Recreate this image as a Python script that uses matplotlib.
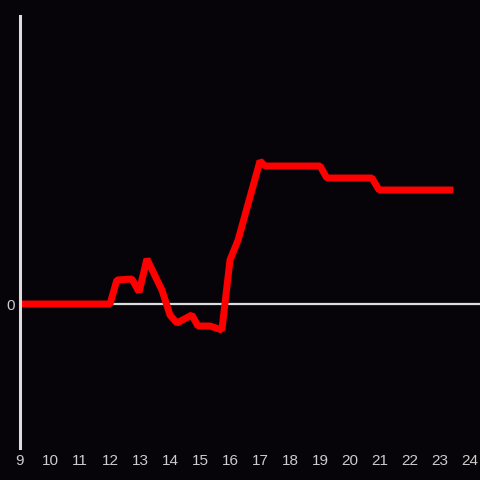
import matplotlib
matplotlib.use("Agg")
import matplotlib.pyplot as plt

# hour of day and value (arbitrary units)
hours = [9.0, 12.0, 12.23, 12.73, 12.97, 13.23, 13.73, 14.0, 14.23, 14.73,
         14.93, 15.33, 15.73, 16.0, 16.27, 17.0, 17.17, 19.0, 19.23, 20.73,
         20.97, 23.33]
values = [0, 0, 24, 25, 12, 45, 14, -11, -19, -11,
          -22, -22, -26, 44, 64, 143, 138, 138, 126, 126,
          114, 114]
xticks = list(range(9, 25))

bg = '#060408'
axis_col = '#dddddd'
text_col = '#cccccc'

plt.rcParams['font.family'] = ['Liberation Sans', 'DejaVu Sans']

fig = plt.figure(figsize=(4.8, 4.8), dpi=100, facecolor=bg)
ax = fig.add_axes([20 / 480, 32 / 480, 460 / 480, 432 / 480], facecolor=bg)

ax.set_xlim(9, 9 + 460 / 30)
ax.set_ylim(-144, 288)

ax.axhline(0, color=axis_col, lw=1.6, zorder=1)
ax.plot(hours, values, color='#ff0000', lw=5, zorder=3, solid_joinstyle='bevel')

for s in ['top', 'right', 'bottom']:
    ax.spines[s].set_visible(False)
ax.spines['left'].set_color(axis_col)
ax.spines['left'].set_linewidth(2.2)
ax.spines['left'].set_zorder(4)

ax.set_xticks(xticks)
ax.set_xticklabels([str(t) for t in xticks])
ax.set_yticks([0])
ax.set_yticklabels(['0'])
ax.tick_params(axis='both', length=0, colors=text_col, labelsize=11)
ax.tick_params(axis='x', pad=4)
ax.tick_params(axis='y', pad=4)

fig.savefig('out.png', dpi=100, facecolor=bg)
